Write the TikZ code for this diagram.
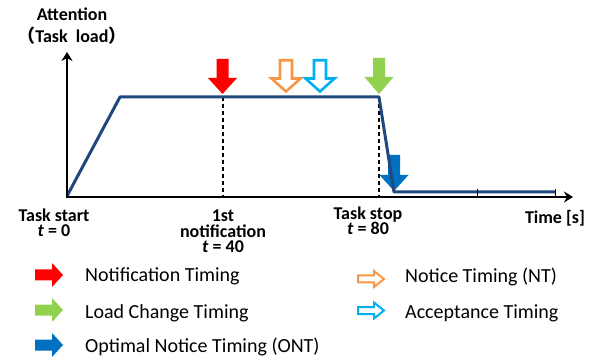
\documentclass[tikz,border=0pt]{standalone}
\usepackage{fontspec}
\setmainfont{Carlito}
\newfontfamily\cjkfont{Noto Sans CJK JP}
\usetikzlibrary{arrows.meta}
\definecolor{cRed}{HTML}{FF0000}
\definecolor{cOrange}{HTML}{F79646}
\definecolor{cLBlue}{HTML}{00B0F0}
\definecolor{cGreen}{HTML}{92D050}
\definecolor{cONT}{HTML}{0070C0}
\definecolor{cNavy}{HTML}{1F497D}
\newcommand{\DnArrow}[5]{\path[#5] ({#1-6},#2) -- ({#1+6},#2) -- ({#1+6},#3) -- ({#1+14.5},#3) -- (#1,#4) -- ({#1-14.5},#3) -- ({#1-6},#3) -- cycle;}
\newcommand{\RtArrow}[5]{\path[#5] (#1,{#2-5.5}) -- (#3,{#2-5.5}) -- (#3,{#2-12}) -- (#4,#2) -- (#3,{#2+12}) -- (#3,{#2+5.5}) -- (#1,{#2+5.5}) -- cycle;}
\newcommand{\RtHollow}[5]{\path[#5] (#1,{#2-3.5}) -- (#3,{#2-3.5}) -- (#3,{#2-8}) -- (#4,#2) -- (#3,{#2+8}) -- (#3,{#2+3.5}) -- (#1,{#2+3.5}) -- cycle;}
\tikzset{
  axis/.style={line width=2.5pt, -{Stealth[length=9pt,width=11pt]}},
  curve/.style={draw=cNavy, line width=3pt, line join=round},
  guide/.style={line width=1.5pt, dash pattern=on 4pt off 3pt},
  tickmark/.style={line width=1pt},
  lbl/.style={font=\fontsize{18}{15.5}\selectfont\bfseries, inner sep=0pt, anchor=base, align=center},
  leg/.style={font=\fontsize{20}{20}\selectfont, inner sep=0pt, anchor=base west},
  hollow/.style={fill=white, line width=2.6pt, line join=miter},
}
\begin{document}
\begin{tikzpicture}[x=1pt,y=-1pt]
\useasboundingbox (0,0) rectangle (592,358);
% guides
\coordinate (g1t) at (223,97); \coordinate (g1b) at (223,196);
\coordinate (g2t) at (379,97); \coordinate (g2b) at (379,196);
\draw[guide] (g1t) -- (g1b);
\draw[guide] (g2t) -- (g2b);
% ONT arrow (behind curve)
\DnArrow{394}{155}{175}{191}{fill=cONT}
% curve
\coordinate (p0) at (67,196);
\coordinate (p1) at (120,97);
\coordinate (p2) at (379,97);
\coordinate (p3) at (394,192);
\coordinate (p4) at (555,192);
\draw[curve] (p0) -- (p1) -- (p2) -- (p3) -- (p4);
% ticks
\coordinate (t1a) at (477,189); \coordinate (t1b) at (477,197);
\coordinate (t2a) at (555,189); \coordinate (t2b) at (555,197);
\draw[tickmark] (t1a) -- (t1b);
\draw[tickmark] (t2a) -- (t2b);
% axes
\coordinate (o) at (67,197);
\coordinate (ytip) at (67,52);
\coordinate (xtip) at (573,197);
\draw[axis] ([yshift=-1.25pt]o) -- (ytip);
\draw[axis] ([xshift=-1.25pt]o) -- (xtip);
% timing arrows
\DnArrow{222.5}{59}{78}{94}{fill=cRed}
\DnArrow{286}{60.3}{78.5}{91.5}{hollow, draw=cOrange}
\DnArrow{320}{60.3}{78.5}{91.5}{hollow, draw=cLBlue}
\DnArrow{379}{58}{77}{94}{fill=cGreen}
% axis labels
\node[lbl, font=\fontsize{18}{22}\selectfont\bfseries] (att) at (72,43) {Attention\\{\cjkfont （}Task\ \ load{\cjkfont ）}};
\node[lbl] (ts) at (54,237) {Task start\\\textit{t} = 0};
\node[lbl] (nt) at (223,253) {1st\\notification\\\textit{t} = 40};
\node[lbl] (st) at (368,235) {Task stop\\\textit{t} = 80};
\node[lbl] (time) at (555,224) {Time [s]};
% legend
\RtArrow{35}{275}{52}{63}{fill=cRed}
\RtArrow{35}{310}{52}{63}{fill=cGreen}
\RtArrow{35}{345}{52}{63}{fill=cONT}
\RtHollow{358}{279}{374}{384}{hollow, line width=2pt, draw=cOrange}
\RtHollow{358}{310.5}{374}{384}{hollow, line width=2pt, draw=cLBlue}
\node[leg] (l1) at (85,282) {Notification Timing};
\node[leg] (l2) at (85,318) {Load Change Timing};
\node[leg] (l3) at (85,352) {Optimal Notice Timing (ONT)};
\node[leg] (l4) at (405,283) {Notice Timing (NT)};
\node[leg] (l5) at (405,319) {Acceptance Timing};
\end{tikzpicture}
\end{document}
